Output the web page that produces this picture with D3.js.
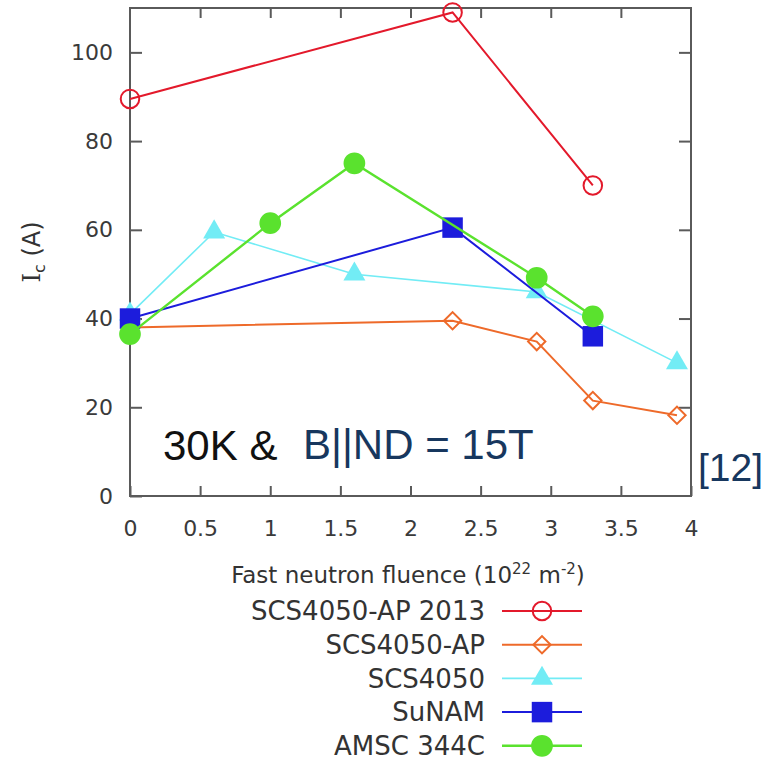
<!DOCTYPE html>
<html>
<head>
<meta charset="utf-8">
<script src="https://cdn.jsdelivr.net/npm/d3@7"></script>
<style>
  html, body { margin: 0; padding: 0; background: #fff; }
  svg { display: block; }
  .tick text { font-family: 'DejaVu Sans', Verdana, sans-serif; fill: #3a3a3a; }
</style>
</head>
<body>
<svg id="chart" width="765" height="765"></svg>
<script>
// values
const seriesNames = ['SCS4050-AP 2013', 'SCS4050-AP', 'SCS4050', 'SuNAM', 'AMSC 344C'];

const ap2013X = [0, 2.3, 3.3];
const ap2013Y = [89.5, 109, 70];

const apX = [0, 2.3, 2.9, 3.3, 3.9];
const apY = [38, 39.5, 34.8, 21.5, 18.2];

const scsX = [0, 0.6, 1.6, 2.9, 3.9];
const scsY = [41, 59.5, 50, 46, 30];

const sunamX = [0, 2.3, 3.3];
const sunamY = [40, 60.5, 36];

const amscX = [0, 1, 1.6, 2.9, 3.3];
const amscY = [36.5, 61.5, 75, 49.2, 40.5];

const xTicks = [0, 0.5, 1, 1.5, 2, 2.5, 3, 3.5, 4];
const yTicks = [0, 20, 40, 60, 80, 100];

// styles, one per series
const styles = [
  { color: '#e3192b', symbol: 'circle', filled: false, size: 270, width: 2 },
  { color: '#ee6a2a', symbol: 'diamond', filled: false, size: 150, width: 2 },
  { color: '#72ecf5', symbol: 'triangle', filled: true, size: 210, width: 1.6 },
  { color: '#1c1cdc', symbol: 'square', filled: true, size: 420, width: 2 },
  { color: '#5ae22e', symbol: 'circle', filled: true, size: 370, width: 2.4 }
];

const xs = [ap2013X, apX, scsX, sunamX, amscX];
const ys = [ap2013Y, apY, scsY, sunamY, amscY];

const series = seriesNames.map((name, i) => ({
  name,
  style: styles[i],
  points: xs[i].map((x, j) => ({ x, y: ys[i][j] }))
}));

const svg = d3.select('#chart');
const plotLeft = 130, plotRight = 691, plotTop = 8, plotBottom = 496;

const x = d3.scaleLinear().domain([0, 4]).range([plotLeft, plotRight]);
const y = d3.scaleLinear().domain([0, 110]).range([plotBottom, plotTop]);

const tickColor = '#5a5a5a';

function styleAxis(g) {
  g.select('.domain').remove();
  g.selectAll('.tick line').attr('stroke', tickColor).attr('stroke-width', 2);
}

svg.append('g')
  .attr('transform', `translate(0,${plotBottom})`)
  .call(d3.axisBottom(x).tickValues(xTicks).tickSizeInner(-10).tickSizeOuter(0).tickPadding(24)
    .tickFormat(d3.format('')))
  .call(styleAxis)
  .selectAll('text').attr('font-size', 22);

svg.append('g')
  .attr('transform', `translate(0,${plotTop})`)
  .call(d3.axisTop(x).tickValues(xTicks.slice(1, -1)).tickSizeInner(-10).tickSizeOuter(0).tickFormat(''))
  .call(styleAxis);

svg.append('g')
  .attr('transform', `translate(${plotLeft},0)`)
  .call(d3.axisLeft(y).tickValues(yTicks).tickSizeInner(-12).tickSizeOuter(0).tickPadding(17))
  .call(styleAxis)
  .selectAll('text').attr('font-size', 22);

svg.append('g')
  .attr('transform', `translate(${plotRight},0)`)
  .call(d3.axisRight(y).tickValues(yTicks.slice(1)).tickSizeInner(-12).tickSizeOuter(0).tickFormat(''))
  .call(styleAxis);

svg.append('rect')
  .attr('x', plotLeft).attr('y', plotTop)
  .attr('width', plotRight - plotLeft).attr('height', plotBottom - plotTop)
  .attr('fill', 'none').attr('stroke', tickColor).attr('stroke-width', 2);

// annotation inside plot
svg.append('text')
  .attr('x', 163).attr('y', 460)
  .attr('font-family', "'Liberation Sans', Arial, sans-serif")
  .attr('font-size', 42).attr('fill', '#111')
  .text('30K &');

svg.append('text')
  .attr('x', 303).attr('y', 459)
  .attr('font-family', "'Liberation Sans', Arial, sans-serif")
  .attr('font-size', 42).attr('fill', '#17375e')
  .text('B||ND = 15T');

svg.append('text')
  .attr('x', 698).attr('y', 481)
  .attr('font-family', "'Liberation Sans', Arial, sans-serif")
  .attr('font-size', 39).attr('fill', '#17375e')
  .text('[12]');

// series
const symbolTypes = {
  circle: d3.symbolCircle,
  triangle: d3.symbolTriangle,
  square: d3.symbolSquare,
  diamond: d3.symbolSquare
};

function drawMarker(g, style, px, py) {
  g.append('path')
    .attr('d', d3.symbol(symbolTypes[style.symbol], style.size)())
    .attr('transform', `translate(${px},${py})` + (style.symbol === 'diamond' ? ' rotate(45)' : ''))
    .attr('fill', style.filled ? style.color : '#fff')
    .attr('fill-opacity', style.filled ? 1 : 0)
    .attr('stroke', style.color)
    .attr('stroke-width', style.filled ? 0 : 2);
}

const line = d3.line().x((d) => x(d.x)).y((d) => y(d.y));

series.forEach((s) => {
  const g = svg.append('g');
  g.append('path')
    .datum(s.points)
    .attr('d', line)
    .attr('fill', 'none')
    .attr('stroke', s.style.color)
    .attr('stroke-width', s.style.width);
  s.points.forEach((p) => drawMarker(g, s.style, x(p.x), y(p.y)));
});

// axis titles
const yTitle = svg.append('text')
  .attr('transform', 'translate(40,252) rotate(-90)')
  .attr('text-anchor', 'middle')
  .attr('font-family', "'DejaVu Sans', Verdana, sans-serif")
  .attr('font-size', 24).attr('fill', '#333');
yTitle.append('tspan').attr('font-family', "'DejaVu Serif', serif").text('I');
yTitle.append('tspan').attr('font-size', 16).attr('dy', 5).text('c');
yTitle.append('tspan').attr('dy', -5).text(' (A)');

const xTitle = svg.append('text')
  .attr('x', 408).attr('y', 583)
  .attr('text-anchor', 'middle')
  .attr('font-family', "'DejaVu Sans', Verdana, sans-serif")
  .attr('font-size', 23).attr('fill', '#333');
xTitle.append('tspan').text('Fast neutron fluence (10');
xTitle.append('tspan').attr('font-size', 15).attr('dy', -9).text('22');
xTitle.append('tspan').attr('dy', 9).text(' m');
xTitle.append('tspan').attr('font-size', 15).attr('dy', -9).text('-2');
xTitle.append('tspan').attr('dy', 9).text(')');

// legend
const legend = svg.append('g');
series.forEach((s, i) => {
  const ly = 611 + i * 33.7;
  legend.append('text')
    .attr('x', 485).attr('y', ly).attr('dy', '0.36em')
    .attr('text-anchor', 'end')
    .attr('font-family', "'DejaVu Sans', Verdana, sans-serif")
    .attr('font-size', 26).attr('fill', '#333')
    .text(s.name);
  legend.append('line')
    .attr('x1', 502).attr('x2', 582).attr('y1', ly).attr('y2', ly)
    .attr('stroke', s.style.color).attr('stroke-width', s.style.width);
  drawMarker(legend, s.style, 542, ly);
});
</script>
</body>
</html>
